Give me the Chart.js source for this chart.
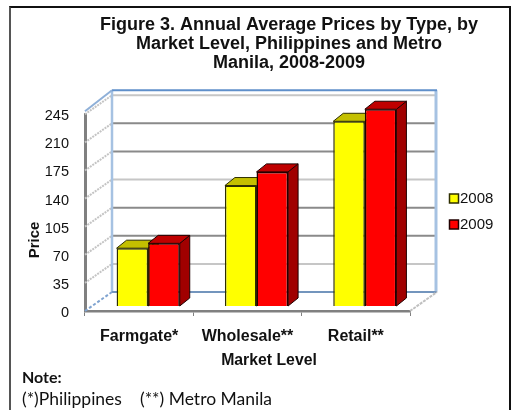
<!DOCTYPE html>
<html lang="en">
<head>
  <meta charset="UTF-8">
  <title>Figure 3</title>
  <script src="https://cdn.jsdelivr.net/npm/chart.js"></script>
  <style>
    html, body { margin: 0; background: white; overflow: hidden; }
    #frame { position: absolute; left: 9px; top: 6px; width: 498px; height: 420px; border: 2px solid #333; border-right-color: #111; border-top-color: #111; border-left-color: #555; }
    canvas { position: absolute; left: 0; top: 0; }
  </style>
</head>
<body>
<div id="frame"></div>
<canvas id="grafica" width="512" height="410"></canvas>
<script>
  const categories = ['Farmgate*', 'Wholesale**', 'Retail**'];
  const years = ['2008', '2009'];
  const values2008 = [72, 150, 230];
  const values2009 = [78, 167, 245];
  const titleLines = ['Figure 3. Annual Average Prices by Type, by', 'Market Level, Philippines and Metro', 'Manila, 2008-2009'];
  const yTicks = [0, 35, 70, 105, 140, 175, 210, 245];
  const lightLines = [35, 140, 245];

  const FONT = '"Liberation Sans", Arial, sans-serif';
  const depthX = 27, depthY = 19;   // floor depth of the fake 3d box
  const barDx = 9, barDy = 5;       // bars stand halfway into the floor
  const faceX = 10, faceY = 8;      // depth of each bar

  const faces = [
    { top: '#c4c000', side: '#8f8c00', edge: '#2e2e00' },
    { top: '#bf0000', side: '#a00000', edge: '#200000' }
  ];

  function line(ctx, x1, y1, x2, y2, color, width, dash) {
    ctx.beginPath();
    ctx.setLineDash(dash || []);
    ctx.strokeStyle = color;
    ctx.lineWidth = width;
    ctx.moveTo(x1, y1);
    ctx.lineTo(x2, y2);
    ctx.stroke();
    ctx.setLineDash([]);
  }

  function poly(ctx, pts, fill, edge) {
    ctx.beginPath();
    pts.forEach((p, i) => i ? ctx.lineTo(p[0], p[1]) : ctx.moveTo(p[0], p[1]));
    ctx.closePath();
    ctx.fillStyle = fill;
    ctx.fill();
    ctx.strokeStyle = edge;
    ctx.lineWidth = 1;
    ctx.stroke();
  }

  function label(ctx, text, x, y, font, align) {
    ctx.font = font;
    ctx.fillStyle = '#111';
    ctx.textAlign = align || 'center';
    ctx.textBaseline = 'middle';
    ctx.fillText(text, x, y);
  }

  const box3d = {
    id: 'box3d',
    beforeDraw(chart) {
      // title is centred at x=289 in the original, not over the canvas
      chart.titleBlock.left = 100;
      chart.titleBlock.right = 478;
    },
    beforeDatasetsDraw(chart) {
      const ctx = chart.ctx, y = chart.scales.y, a = chart.chartArea;
      const backL = a.left + depthX, backR = a.right + depthX;
      const wallTop = y.getPixelForValue(245) - depthY - 5;
      const floor = a.bottom - depthY;

      ctx.save();
      yTicks.slice(1).forEach(v => {
        const py = y.getPixelForValue(v);
        const light = lightLines.includes(v);
        line(ctx, a.left, py, backL, py - depthY, '#c4c4c4', 2, [2, 1]);
        line(ctx, backL, py - depthY, backR, py - depthY, light ? '#c6c6c6' : '#8a8a8a', 2);
      });
      line(ctx, backL, wallTop, backL, floor, '#a6c2e2', 2.5);
      line(ctx, backR - 1, wallTop, backR - 1, floor, '#a6c2e2', 3);
      line(ctx, backL, wallTop, backR, wallTop, '#5f8fca', 2);
      line(ctx, backL, floor, backR, floor, '#7395bd', 2);
      line(ctx, a.left, y.getPixelForValue(245) - 3, backL, wallTop, '#8fb0d8', 2);
      line(ctx, a.left, a.bottom, backL, floor, '#7fa3d0', 2, [3, 2]);
      line(ctx, a.right, a.bottom, backR, floor, '#c0c0c0', 2, [3, 1]);

      // bars are shifted into the floor, side and top faces go under them
      ctx.translate(barDx, -barDy);
      chart.data.datasets.forEach((ds, i) => {
        chart.getDatasetMeta(i).data.forEach(bar => {
          const l = bar.x - bar.width / 2, r = bar.x + bar.width / 2;
          const c = faces[i];
          poly(ctx, [[r, bar.y], [r + faceX, bar.y - faceY], [r + faceX, bar.base - faceY], [r, bar.base]], c.side, c.edge);
          poly(ctx, [[l, bar.y], [l + faceX, bar.y - faceY], [r + faceX, bar.y - faceY], [r, bar.y]], c.top, c.edge);
        });
      });
    },
    afterDatasetsDraw(chart) {
      chart.ctx.restore();
    },
    afterDraw(chart) {
      const ctx = chart.ctx;
      ctx.save();
      // legend
      years.forEach((yr, i) => {
        const top = 194 + i * 26;
        ctx.fillStyle = chart.data.datasets[i].backgroundColor;
        ctx.strokeStyle = faces[i].edge;
        ctx.lineWidth = 1.5;
        ctx.fillRect(449.5, top, 9, 9);
        ctx.strokeRect(449.5, top, 9, 9);
        label(ctx, yr, 460, top + 5, '15px ' + FONT, 'left');
      });
      // axis titles sit off centre in the original
      label(ctx, 'Market Level', 269, 361, 'bold 15.8px ' + FONT);
      ctx.save();
      ctx.translate(35, 240);
      ctx.rotate(-Math.PI / 2);
      label(ctx, 'Price', 0, 0, 'bold 15px ' + FONT);
      ctx.restore();
      // note
      label(ctx, 'Note:', 22, 378, 'bold 16px Lato, sans-serif', 'left');
      label(ctx, '(*)Philippines', 22, 399, '17.5px Lato, sans-serif', 'left');
      label(ctx, '(**) Metro Manila', 140, 399, '17.5px Lato, sans-serif', 'left');
      ctx.restore();
    }
  };

  new Chart(document.getElementById('grafica'), {
    type: 'bar',
    data: {
      labels: categories,
      datasets: [
        { label: years[0], data: values2008, backgroundColor: '#ffff00', borderColor: '#2e2e00', borderWidth: 1.5, clip: false },
        { label: years[1], data: values2009, backgroundColor: '#ff0000', borderColor: '#200000', borderWidth: 1.5, clip: false }
      ]
    },
    options: {
      responsive: false,
      animation: false,
      events: [],
      layout: { padding: { top: 15, right: 102, left: 0, bottom: 0 } },
      datasets: { bar: { barPercentage: 1, categoryPercentage: 0.583 } },
      plugins: {
        legend: { display: false },
        tooltip: { enabled: false },
        title: {
          display: true,
          text: titleLines,
          color: '#111',
          font: { family: FONT, size: 18, weight: 'bold', lineHeight: 1.06 },
          padding: { top: 0, bottom: 42 }
        }
      },
      scales: {
        x: {
          afterFit(s) { s.height = 99; },
          border: { color: '#808080', width: 2.5 },
          grid: { drawOnChartArea: false, color: '#808080', tickLength: 5 },
          ticks: { color: '#111', padding: 11, font: { family: FONT, size: 16, weight: 'bold' } }
        },
        y: {
          min: 0,
          max: 245,
          afterFit(s) { s.width = 85; },
          border: { color: '#808080', width: 3 },
          grid: { display: false },
          afterBuildTicks(s) { s.ticks = yTicks.map(v => ({ value: v })); },
          ticks: { color: '#111', padding: 8, labelOffset: 2, font: { family: FONT, size: 14.5 } }
        }
      }
    },
    plugins: [box3d]
  });
</script>
</body>
</html>
